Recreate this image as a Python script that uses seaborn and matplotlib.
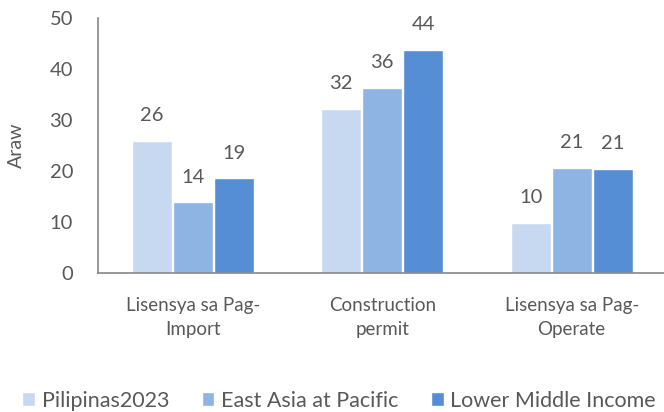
import matplotlib
matplotlib.use("Agg")
import matplotlib.pyplot as plt
import seaborn as sns
import pandas as pd

categories = ["Lisensya sa Pag-\nImport", "Construction\npermit", "Lisensya sa Pag-\nOperate"]
series_names = ["Pilipinas2023", "East Asia at Pacific", "Lower Middle Income"]
pilipinas = [26.0, 32.2, 9.9]
east_asia = [13.9, 36.3, 20.7]
lower_mid = [18.6, 43.8, 20.5]
colors = ["#C6D9F0", "#8EB4E3", "#558ED5"]

rows = []
for name, vals in zip(series_names, [pilipinas, east_asia, lower_mid]):
    for c, v in zip(categories, vals):
        rows.append({"cat": c, "series": name, "val": v})
df = pd.DataFrame(rows)

sns.set_theme(style="white")
plt.rcParams['font.family'] = ['Lato', 'DejaVu Sans']

TXT = "#595959"
fig = plt.figure(figsize=(6.64, 4.12), dpi=100)
ax = fig.add_axes([0.1476, 0.337, 0.856, 0.619])
sns.barplot(data=df, x="cat", y="val", hue="series", palette=colors,
            width=0.65, gap=0.03, ax=ax, legend=True, saturation=1)

for cont in ax.containers:
    ax.bar_label(cont, labels=[str(int(v + 0.5)) for v in cont.datavalues],
                 padding=12, fontsize=14.5, color=TXT)

ax.set_ylim(0, 50)
ax.set_xlim(-0.5, 2.5)
ax.set_yticks(range(0, 51, 10))
ax.tick_params(axis='y', labelsize=14.5, colors=TXT, length=0, pad=18)
ax.tick_params(axis='x', labelsize=13.5, colors=TXT, length=0, pad=17)
for t in ax.get_xticklabels():
    t.set_linespacing(1.5)
ax.set_xlabel("")
ax.set_ylabel("Araw", fontsize=14, color=TXT)
ax.yaxis.set_label_coords(-0.128, 0.5)
for s in ["top", "right"]:
    ax.spines[s].set_visible(False)
ax.spines["left"].set_color("#868686")
ax.spines["bottom"].set_color("#868686")
ax.spines["left"].set_linewidth(1.2)
ax.spines["bottom"].set_linewidth(1.2)

handles, labels = ax.get_legend_handles_labels()
ax.legend(handles, labels, loc="center", bbox_to_anchor=(0.424, -0.5),
          ncol=3, frameon=False, fontsize=15.5, handlelength=0.6, handleheight=0.6,
          handletextpad=0.3, columnspacing=1.5, labelcolor=TXT)

fig.savefig("out.png", dpi=100)
